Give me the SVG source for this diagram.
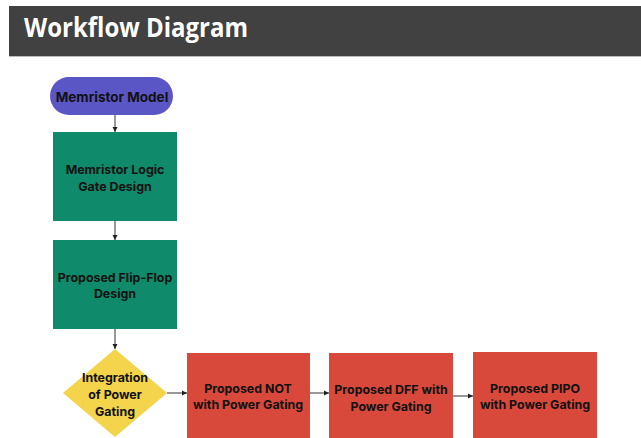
<svg xmlns="http://www.w3.org/2000/svg" width="641" height="438" viewBox="0 0 641 438">
<defs>
<marker id="ah" markerWidth="6" markerHeight="6" refX="5" refY="3" orient="auto" markerUnits="userSpaceOnUse">
<path d="M0,0.5 L5,3 L0,5.5 Z" fill="#222"/>
</marker>
<style>
.t{font-family:Inter,"Liberation Sans",sans-serif;font-weight:700;fill:#111;text-anchor:middle;dominant-baseline:central}
.c{stroke:#333;stroke-width:1;fill:none;marker-end:url(#ah)}
.red{fill:#d9493b}
.grn{fill:#0f8a6b}
</style>
</defs>
<rect width="641" height="438" fill="#fff"/>
<g id="header">
<rect x="9" y="6" width="632" height="51" fill="#414141"/>
<rect x="9" y="56" width="632" height="1" fill="#bbb"/>
<text x="24" y="37" font-family="'Open Sans','Liberation Sans',sans-serif" font-weight="700" font-size="26" textLength="224" lengthAdjust="spacingAndGlyphs" fill="#fff">Workflow Diagram</text>
</g>
<g id="connectors">
<line class="c" x1="115" y1="115" x2="115" y2="132"/>
<line class="c" x1="115" y1="221" x2="115" y2="240"/>
<line class="c" x1="115" y1="329" x2="115" y2="349"/>
<line class="c" x1="167" y1="393" x2="187" y2="393"/>
<line class="c" x1="310" y1="393" x2="329" y2="393"/>
<line class="c" x1="453" y1="396" x2="473" y2="396"/>
</g>
<g id="memristor-model">
<rect x="50" y="77" width="123" height="38" rx="19" fill="#5b56c6"/>
<text class="t" x="112" y="97" font-size="13.5">Memristor Model</text>
</g>
<g id="logic-gate-design">
<rect class="grn" x="53" y="132" width="124" height="89"/>
<text class="t" x="115" y="169" font-size="12.4">Memristor Logic</text>
<text class="t" x="115" y="186" font-size="12.4">Gate Design</text>
</g>
<g id="flip-flop-design">
<rect class="grn" x="53" y="240" width="124" height="89"/>
<text class="t" x="115" y="277" font-size="12.4">Proposed Flip-Flop</text>
<text class="t" x="115" y="293" font-size="12.4">Design</text>
</g>
<g id="power-gating">
<polygon points="115,349 167,393 115,437 63,393" fill="#f3d44b"/>
<text class="t" x="115" y="377" font-size="12.4">Integration</text>
<text class="t" x="115" y="394" font-size="12.4">of Power</text>
<text class="t" x="115" y="411" font-size="12.4">Gating</text>
</g>
<g id="not-pg">
<rect class="red" x="187" y="353" width="123" height="90"/>
<text class="t" x="248" y="388" font-size="12.4">Proposed NOT</text>
<text class="t" x="248" y="404" font-size="12.4">with Power Gating</text>
</g>
<g id="dff-pg">
<rect class="red" x="329" y="353" width="124" height="90"/>
<text class="t" x="391" y="389" font-size="12.4">Proposed DFF with</text>
<text class="t" x="391" y="406" font-size="12.4">Power Gating</text>
</g>
<g id="pipo-pg">
<rect class="red" x="473" y="352" width="124" height="90"/>
<text class="t" x="535" y="388" font-size="12.4">Proposed PIPO</text>
<text class="t" x="535" y="404" font-size="12.4">with Power Gating</text>
</g>
</svg>
